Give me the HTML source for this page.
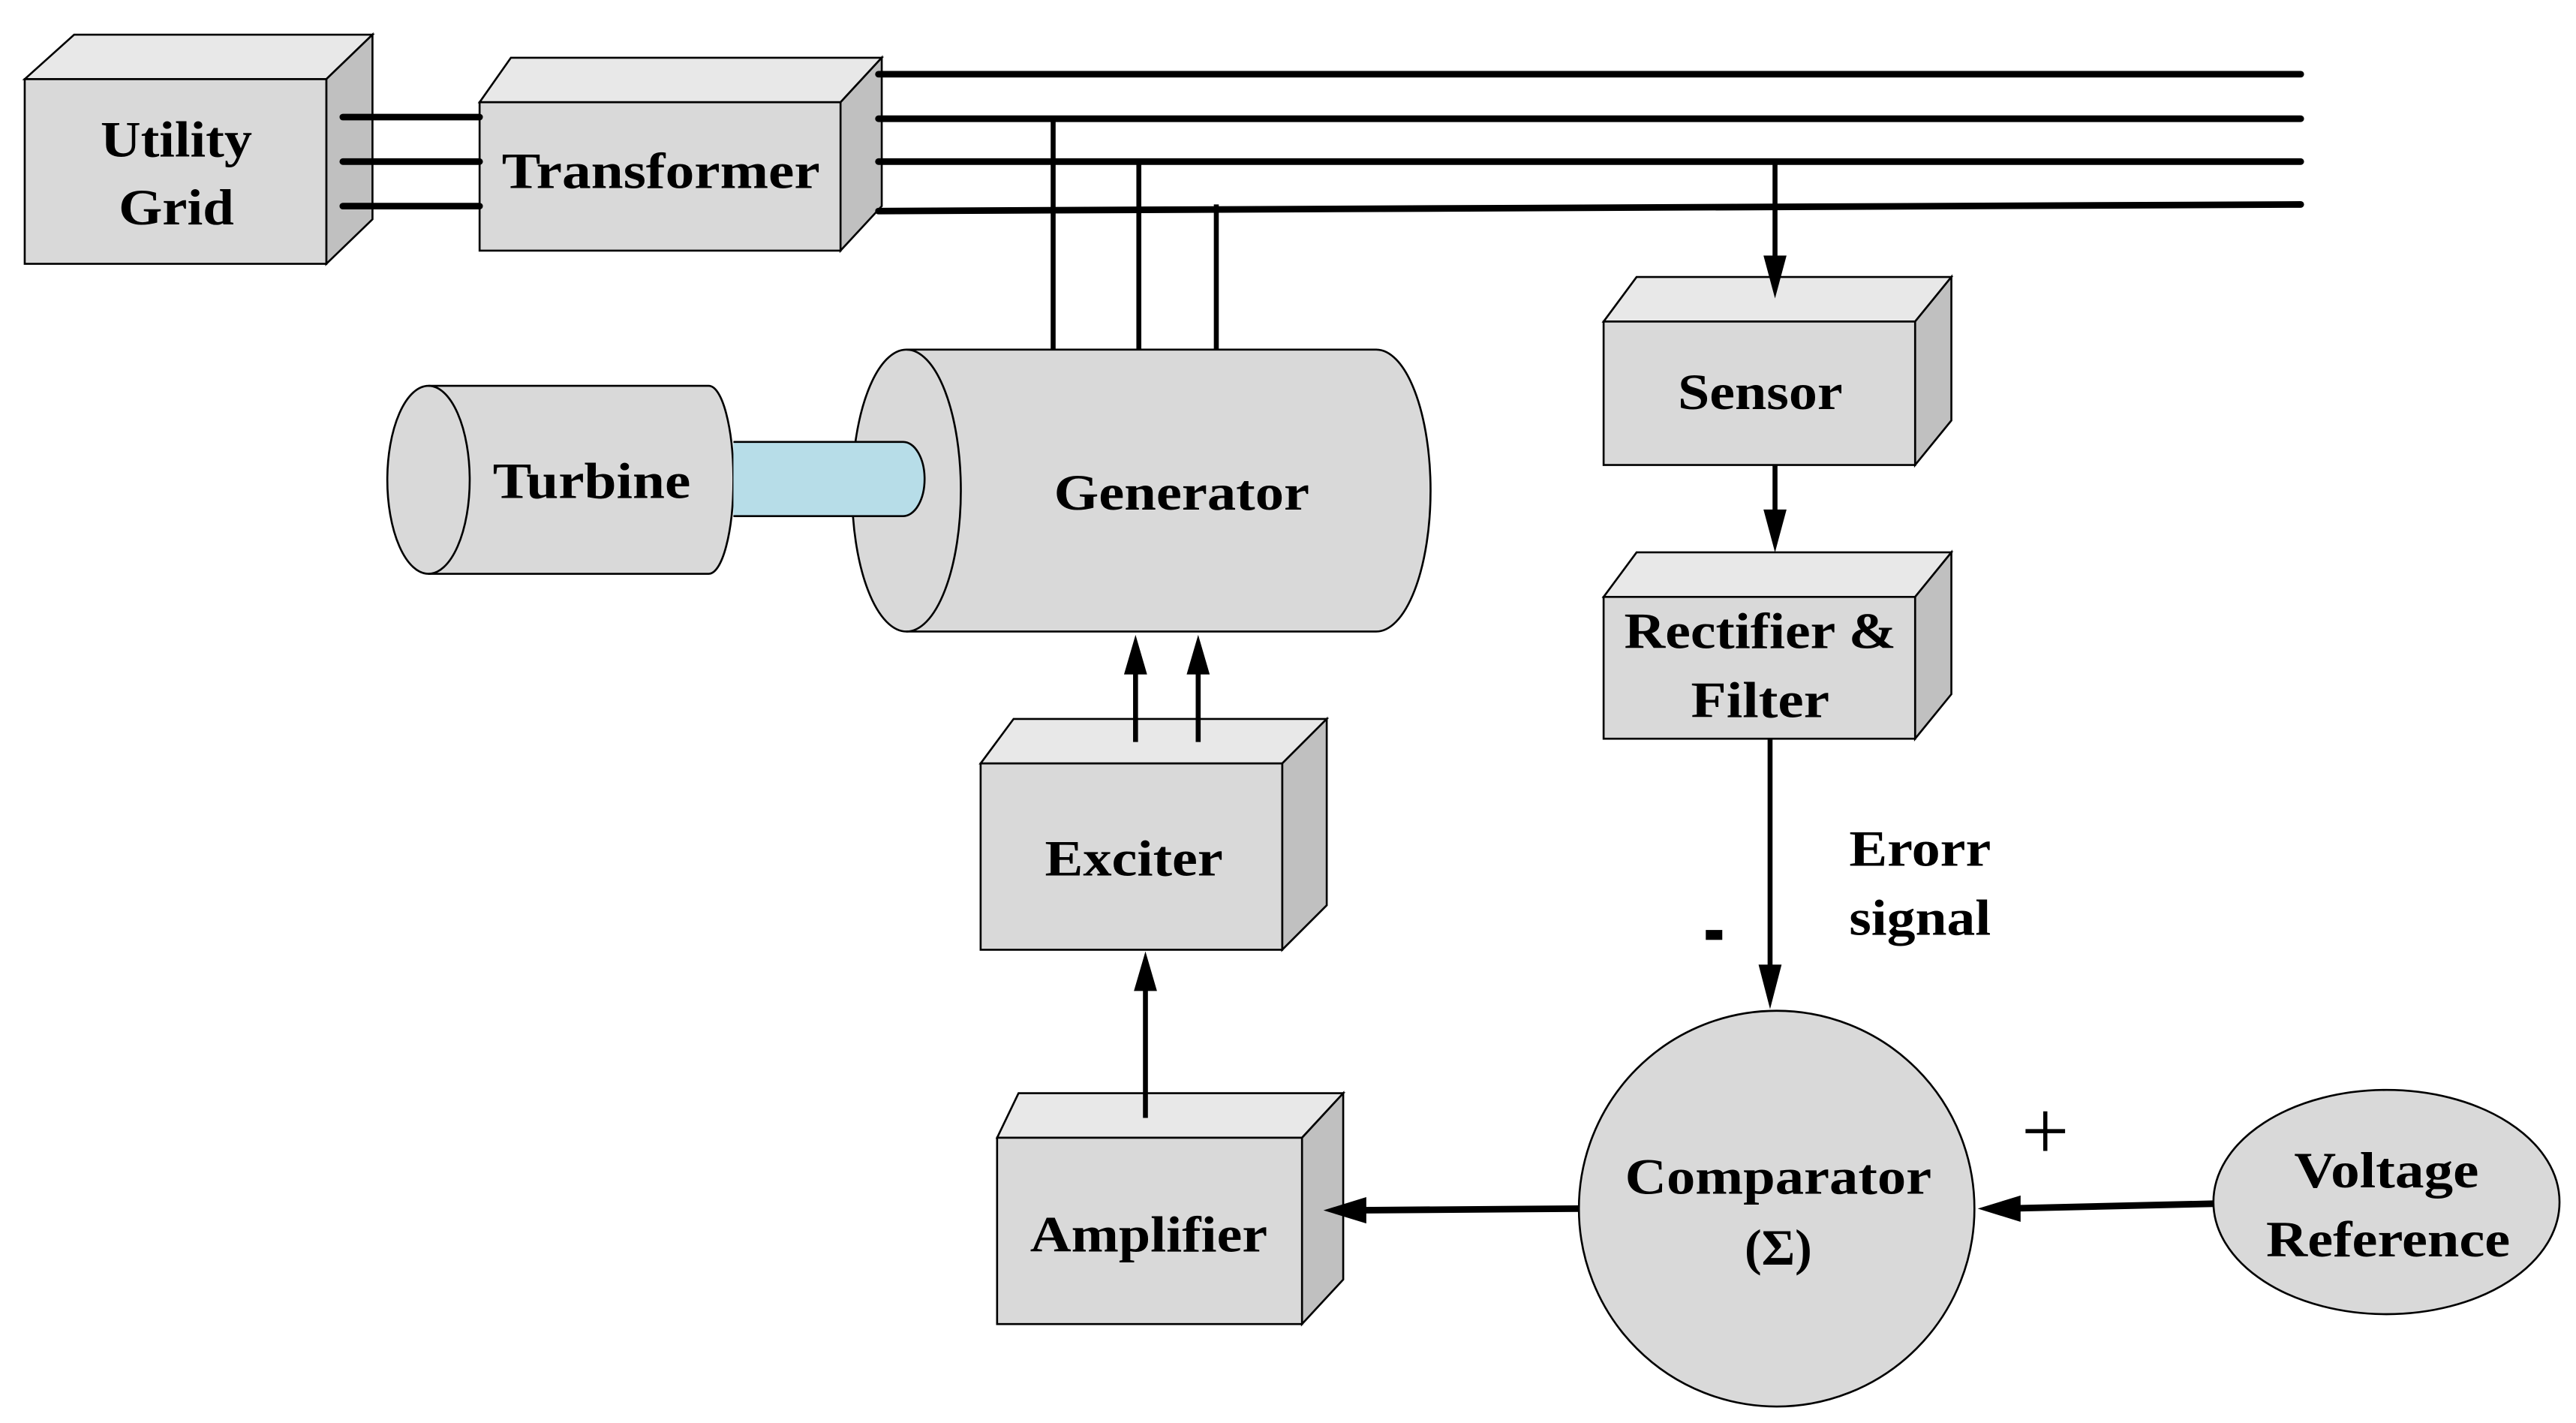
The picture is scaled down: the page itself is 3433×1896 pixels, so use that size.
<!DOCTYPE html>
<html><head><meta charset="utf-8"><style>html,body{margin:0;padding:0;background:#fff}svg{display:block}</style></head>
<body>
<svg width="3433" height="1896" viewBox="0 0 1563 863" preserveAspectRatio="none" xmlns="http://www.w3.org/2000/svg">
<g stroke="#000" stroke-width="1.2" stroke-linejoin="miter">
<polygon points="15,48 45,21 226,21 198,48" fill="#e8e8e8"/>
<polygon points="198,48 226,21 226,133 198,160" fill="#c0c0c0"/>
<rect x="15" y="48" width="183" height="112" fill="#d9d9d9"/>
<polygon points="291,62 310,35 535,35 510,62" fill="#e8e8e8"/>
<polygon points="510,62 535,35 535,125 510,152" fill="#c0c0c0"/>
<rect x="291" y="62" width="219" height="90" fill="#d9d9d9"/>
<polygon points="973,195 993,168 1184,168 1162,195" fill="#e8e8e8"/>
<polygon points="1162,195 1184,168 1184,255 1162,282" fill="#c0c0c0"/>
<rect x="973" y="195" width="189" height="87" fill="#d9d9d9"/>
<polygon points="973,362 993,335 1184,335 1162,362" fill="#e8e8e8"/>
<polygon points="1162,362 1184,335 1184,421 1162,448" fill="#c0c0c0"/>
<rect x="973" y="362" width="189" height="86" fill="#d9d9d9"/>
<polygon points="595,463 615,436 805,436 778,463" fill="#e8e8e8"/>
<polygon points="778,463 805,436 805,549 778,576" fill="#c0c0c0"/>
<rect x="595" y="463" width="183" height="113" fill="#d9d9d9"/>
<polygon points="605,690 618,663 815,663 790,690" fill="#e8e8e8"/>
<polygon points="790,690 815,663 815,776 790,803" fill="#c0c0c0"/>
<rect x="605" y="690" width="185" height="113" fill="#d9d9d9"/>
<path d="M260,234 L430,234 A15,57 0 0 1 430,348 L260,348 A25,57 0 0 1 260,234 Z" fill="#d9d9d9"/>
<path d="M260,234 A25,57 0 0 1 260,348" fill="none"/>
<path d="M550,212 L835,212 A33,85.5 0 0 1 835,383 L550,383 A33,85.5 0 0 1 550,212 Z" fill="#d9d9d9"/>
<path d="M550,212 A33,85.5 0 0 1 550,383" fill="none"/>
<path d="M445,268 L548,268 A13,22.5 0 0 1 548,313 L445,313" fill="#b7dde8"/>
<circle cx="1078" cy="733" r="120" fill="#d9d9d9"/>
<ellipse cx="1448" cy="729" rx="105" ry="68" fill="#d9d9d9"/>
</g>
<g stroke="#000" stroke-width="4" stroke-linecap="round" fill="none">
<line x1="208" y1="71" x2="291" y2="71"/>
<line x1="208" y1="98" x2="291" y2="98"/>
<line x1="208" y1="125" x2="291" y2="125"/>
<line x1="533" y1="45" x2="1396" y2="45"/>
<line x1="533" y1="72" x2="1396" y2="72"/>
<line x1="533" y1="98" x2="1396" y2="98"/>
<line x1="533" y1="128" x2="1396" y2="124"/>
</g>
<g stroke="#000" stroke-width="3" fill="none">
<line x1="639" y1="72" x2="639" y2="212"/>
<line x1="691" y1="98" x2="691" y2="212"/>
<line x1="738" y1="124" x2="738" y2="212"/>
<line x1="1077" y1="98" x2="1077" y2="165"/>
<line x1="1077" y1="282" x2="1077" y2="320"/>
<line x1="1074" y1="448" x2="1074" y2="595"/>
<line x1="689" y1="450" x2="689" y2="400"/>
<line x1="727" y1="450" x2="727" y2="400"/>
<line x1="695" y1="678" x2="695" y2="592"/>
</g>
<g stroke="#000" stroke-width="4" fill="none">
<line x1="958" y1="733" x2="820" y2="734"/>
<line x1="1343" y1="730" x2="1215" y2="733"/>
</g>
<g fill="#000">
<polygon points="1070,155 1084,155 1077,181"/>
<polygon points="1070,309 1084,309 1077,335"/>
<polygon points="1067,585 1081,585 1074,612"/>
<polygon points="682,409 696,409 689,385"/>
<polygon points="720,409 734,409 727,385"/>
<polygon points="688,601 702,601 695,577"/>
<polygon points="829,726 829,742 803,734"/>
<polygon points="1226,725 1226,741 1200,733"/>
</g>
<g font-family="'Liberation Serif',serif" font-weight="bold" font-size="31" text-anchor="middle" fill="#000">
<text x="107" y="95" textLength="92" lengthAdjust="spacingAndGlyphs">Utility</text>
<text x="107" y="136" textLength="70" lengthAdjust="spacingAndGlyphs">Grid</text>
<text x="401" y="114" textLength="193" lengthAdjust="spacingAndGlyphs">Transformer</text>
<text x="359" y="302" textLength="120" lengthAdjust="spacingAndGlyphs">Turbine</text>
<text x="717" y="309" textLength="155" lengthAdjust="spacingAndGlyphs">Generator</text>
<text x="1068" y="248" textLength="100" lengthAdjust="spacingAndGlyphs">Sensor</text>
<text x="1068" y="393" textLength="165" lengthAdjust="spacingAndGlyphs">Rectifier &amp;</text>
<text x="1068" y="435" textLength="84" lengthAdjust="spacingAndGlyphs">Filter</text>
<text x="688" y="531" textLength="108" lengthAdjust="spacingAndGlyphs">Exciter</text>
<text x="697" y="759" textLength="144" lengthAdjust="spacingAndGlyphs">Amplifier</text>
<text x="1079" y="724" textLength="186" lengthAdjust="spacingAndGlyphs">Comparator</text>
<text x="1079" y="767">(Σ)</text>
<text x="1448" y="720" textLength="112" lengthAdjust="spacingAndGlyphs">Voltage</text>
<text x="1449" y="762" textLength="148" lengthAdjust="spacingAndGlyphs">Reference</text>
<text x="1165" y="525" textLength="86" lengthAdjust="spacingAndGlyphs">Erorr</text>
<text x="1165" y="567" textLength="86" lengthAdjust="spacingAndGlyphs">signal</text>
</g>
<rect x="1035" y="564" width="10" height="6" fill="#000"/>
<g stroke="#000" stroke-width="2.5"><line x1="1229" y1="686" x2="1253" y2="686"/><line x1="1241" y1="674" x2="1241" y2="698"/></g>
</svg>
</body></html>
